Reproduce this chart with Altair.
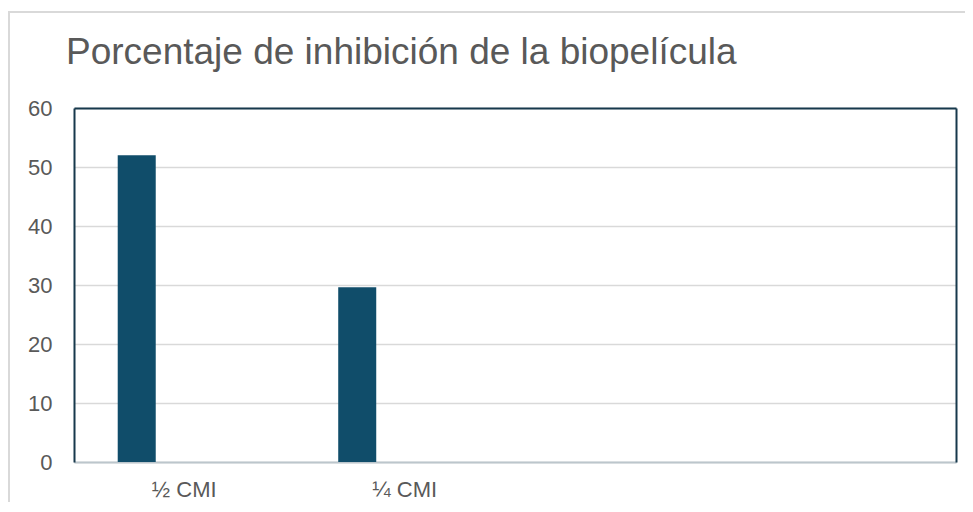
import altair as alt
import pandas as pd

categories = ["½ CMI", "¼ CMI", " ", "  "]
series_names = ["Serie 1", "Serie 2"]
bar_categories = ["½ CMI", "¼ CMI"]
bar_series = ["Serie 1", "Serie 1"]
bar_values = [52.0, 29.6]
y_ticks = [0, 10, 20, 30, 40, 50, 60]

df = pd.DataFrame({"cat": bar_categories, "serie": bar_series, "valor": bar_values})

FONT = "Liberation Sans"
TXT = "#595959"
DARK = "#17394C"

x_bottom = alt.X("cat:N", sort=categories,
                 scale=alt.Scale(domain=categories, paddingInner=0, paddingOuter=0),
                 axis=alt.Axis(title=None, labelAngle=0, ticks=False, domainColor="#BCC6CC",
                               domainWidth=2, labelFont=FONT, labelFontSize=22,
                               labelColor=TXT, labelPadding=17, grid=False))
y_left = alt.Y("valor:Q", scale=alt.Scale(domain=[0, 60], nice=False),
               axis=alt.Axis(title=None, values=y_ticks, ticks=False, domainColor=DARK,
                             domainWidth=2, labelFont=FONT, labelFontSize=22,
                             labelColor=TXT, labelPadding=22, grid=True,
                             gridColor="#D9D9D9", gridWidth=1.5))

bars = alt.Chart(df).mark_bar(color="#104D6A").encode(
    x=x_bottom,
    xOffset=alt.XOffset("serie:N", scale=alt.Scale(domain=series_names,
                                                   paddingInner=0.6, paddingOuter=0.46)),
    y=y_left,
)

frame = alt.Chart(df).mark_point(opacity=0).encode(
    x=alt.X("cat:N", sort=categories,
            scale=alt.Scale(domain=categories, paddingInner=0, paddingOuter=0),
            axis=alt.Axis(orient="top", title=None, labels=False, ticks=False,
                          domainColor=DARK, domainWidth=2, grid=False)),
    y=alt.Y("valor:Q", scale=alt.Scale(domain=[0, 60], nice=False),
            axis=alt.Axis(orient="right", title=None, labels=False, ticks=False,
                          domainColor=DARK, domainWidth=2, grid=False)),
)

border = alt.Chart(df).mark_rect(fill=None, stroke="#D9D9D9", strokeWidth=2, clip=False).encode(
    x=alt.value(-65), x2=alt.value(1100), y=alt.value(-96), y2=alt.value(700)
)

chart = alt.layer(border, bars, frame).resolve_axis(x="independent", y="independent").properties(
    width=882, height=354,
    title=alt.TitleParams("Porcentaje de inhibición de la biopelícula", anchor="start",
                          font=FONT, fontSize=37, fontWeight="normal", color=TXT,
                          offset=-61, dx=-8, frame="group"),
    autosize=alt.AutoSizeParams(type="none"),
    padding={"left": 66, "top": 100, "right": 9, "bottom": 40},
).configure_view(stroke=None)

chart.save("out.html", embed_options={"renderer": "svg", "actions": False})
